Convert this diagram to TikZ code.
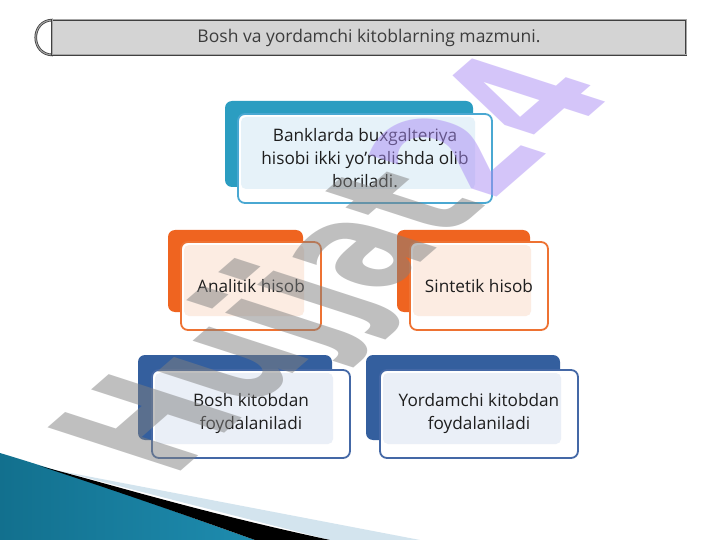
\documentclass[tikz,border=0pt]{standalone}
\usepackage{fontspec}
\setmainfont{Open Sans}
\newfontfamily\wmfont{DejaVu Sans}
\usetikzlibrary{calc}
\definecolor{tealback}{HTML}{2B9DC1}
\definecolor{tealedge}{HTML}{4AA8D2}
\definecolor{tealfill}{HTML}{E6F2F9}
\definecolor{orback}{HTML}{EF6420}
\definecolor{oredge}{HTML}{EE7232}
\definecolor{orfill}{HTML}{FCECE2}
\definecolor{blback}{HTML}{345F9E}
\definecolor{bledge}{HTML}{4468A6}
\definecolor{blfill}{HTML}{EAEFF7}
\definecolor{titlefill}{HTML}{D4D4D4}
\definecolor{titletxt}{HTML}{3C3C3C}
\definecolor{txt}{HTML}{1E1E1E}
\definecolor{lightband}{HTML}{D3E4EE}
\definecolor{tealA}{RGB}{18,112,142}
\definecolor{tealB}{RGB}{70,180,214}
\definecolor{tealC}{RGB}{30,140,175}
\definecolor{wmgray}{RGB}{128,128,128}
\definecolor{wmpurple}{RGB}{170,140,245}
\pgfdeclarelayer{bg}
\pgfsetlayers{bg,main}
\tikzset{
  backbox/.style={rounded corners=7pt, inner sep=0pt, draw=none},
  frontbox/.style={rounded corners=7pt, inner sep=0pt, line width=1.8pt, align=center,
     font=\fontsize{17.2}{23}\selectfont, text=txt, fill=white,
     path picture={\fill[#1, rounded corners=5pt] ($(path picture bounding box.north west)+(3pt,-3pt)$)
        rectangle ($(path picture bounding box.south east)+(-17pt,14pt)$);}},
  oline/.style={draw=oredge, line width=0.7pt, double=orfill, double distance=1.4pt},
  bline/.style={draw=bledge, line width=1.3pt},
}
\begin{document}
\begin{tikzpicture}[x=1pt,y=-1pt]
\fill[white] (0,0) rectangle (720,540);
\useasboundingbox (0,0) rectangle (720,540);

% bottom decoration
\fill[lightband] (60,471) -- (420,540) -- (330,540) -- cycle;
\shade[left color=tealA, middle color=tealB, right color=tealC]
  (0,453) .. controls (90,480) and (170,510) .. (255,540) -- (0,540) -- cycle;
\fill[black] (40,466) .. controls (120,487) and (200,512) .. (330,540) -- (255,540) .. controls (180,513) and (110,489) .. (40,466) -- cycle;

% title bar
\draw[line width=0.8pt, draw=black!75, double=black!35, double distance=1pt, fill=white]
  (53,20) .. controls (30,20) and (30,55) .. (53,55);
\node[draw=black!75, line width=0.8pt, double=black!35, double distance=1pt, fill=titlefill,
  minimum width=634pt, minimum height=35pt, inner sep=0pt,
  font=\fontsize{17.5}{18}\selectfont, text=titletxt] (title) at (369,37.5)
  {Bosh va yordamchi kitoblarning mazmuni.};

% back boxes
\node[backbox, fill=tealback, minimum width=248pt, minimum height=86pt] (tback) at (349,144) {};
\node[backbox, fill=orback, minimum width=135pt, minimum height=82pt] (lback) at (235.5,271) {};
\node[backbox, fill=orback, minimum width=133pt, minimum height=82pt] (rback) at (463.5,271) {};
\node[backbox, fill=blback, minimum width=194pt, minimum height=85pt] (blb) at (235,397.5) {};
\node[backbox, fill=blback, minimum width=194pt, minimum height=85pt] (brb) at (463,397.5) {};

% front boxes
\node[frontbox=tealfill, draw=tealedge, minimum width=254pt, minimum height=89pt] (top) at (365,158.5)
  {Banklarda buxgalteriya\\hisobi ikki yo’nalishda olib\\boriladi.};
\node[frontbox=orfill, draw=oredge, minimum width=140pt, minimum height=88pt] (ana) at (251,286) {Analitik hisob};
\node[frontbox=orfill, draw=oredge, minimum width=138pt, minimum height=88pt] (sin) at (479,286) {Sintetik hisob};
\node[frontbox=blfill, draw=bledge, minimum width=198pt, minimum height=88pt] (bosh) at (251,414)
  {Bosh kitobdan\\foydalaniladi};
\node[frontbox=blfill, draw=bledge, minimum width=198pt, minimum height=88pt] (yord) at (479,414)
  {Yordamchi kitobdan\\foydalaniladi};

% connectors
\begin{pgfonlayer}{bg}
\draw[oline] (tback.south) -- ++(0,26) coordinate (j) -| (lback.north);
\draw[oline] (j) -| (rback.north);
\draw[bline] (lback.south) -- (lback.south |- blb.north);
\draw[bline] (rback.south) -- (rback.south |- brb.north);
\end{pgfonlayer}

% watermark
\node[anchor=base west, inner sep=0pt, text opacity=0.5, cm={0.936,0.814,-1.826,0.593,(0,0)},
  font=\wmfont\bfseries\fontsize{100}{100}\selectfont] (wm) at (172,479)
  {\textcolor{wmgray}{Hujjat}\textcolor{wmpurple}{24}};
\end{tikzpicture}
\end{document}
